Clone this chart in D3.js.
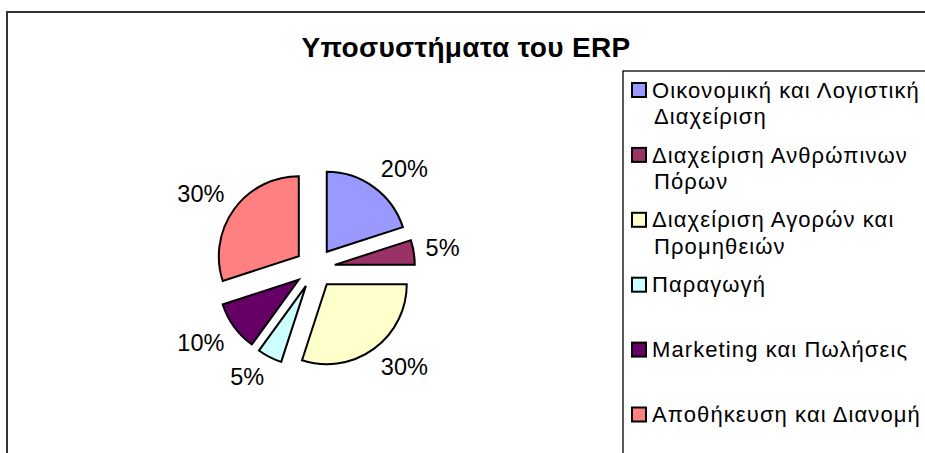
<!DOCTYPE html>
<html>
<head>
<meta charset="utf-8">
<script src="https://cdn.jsdelivr.net/npm/d3@7/dist/d3.min.js"></script>
<style>
  html, body { margin: 0; padding: 0; background: #fff; }
  svg { display: block; font-family: "Liberation Sans", Arial, sans-serif; }
</style>
</head>
<body>
<svg id="chart" width="925" height="453"></svg>
<script>
// Subsystems of an ERP system and their share
const categories = [
  "Οικονομική και Λογιστική Διαχείριση",
  "Διαχείριση Ανθρώπινων Πόρων",
  "Διαχείριση Αγορών και Προμηθειών",
  "Παραγωγή",
  "Marketing και Πωλήσεις",
  "Αποθήκευση και Διανομή"
];
const values = [20, 5, 30, 5, 10, 30];
const colors = ["#9999FF", "#993366", "#FFFFCC", "#CCFFFF", "#660066", "#FF8080"];
const title = "Υποσυστήματα του ERP";

const svg = d3.select("#chart");
const W = 925, H = 453;

// Outer chart frame
svg.append("rect")
  .attr("x", 7).attr("y", 12)
  .attr("width", W + 20).attr("height", H + 20)
  .attr("fill", "#fff")
  .attr("stroke", "#333").attr("stroke-width", 2);

// Title
svg.append("text")
  .attr("x", 466).attr("y", 56.5)
  .attr("text-anchor", "middle")
  .attr("font-weight", "bold")
  .attr("font-size", 28)
  .attr("letter-spacing", 0.35)
  .attr("fill", "#000")
  .text(title);

// Exploded pie
const cx = 315, cy = 268, R = 80, explode = 20;
const pie = d3.pie().sort(null).value(d => d)(values);
const arc = d3.arc().innerRadius(0).outerRadius(R);
const total = d3.sum(values);
const pct = d3.format(".0%");

const slices = svg.append("g").attr("transform", `translate(${cx},${cy})`);

pie.forEach((d, i) => {
  const mid = (d.startAngle + d.endAngle) / 2;
  const ox = Math.sin(mid) * explode, oy = -Math.cos(mid) * explode;
  const g = slices.append("g").attr("transform", `translate(${ox},${oy})`);
  g.append("path")
    .attr("d", arc(d))
    .attr("fill", colors[i])
    .attr("stroke", "#000")
    .attr("stroke-width", 2)
    .attr("stroke-linejoin", "miter");

  // Percentage label outside the slice
  const fs = 23.5, capH = 0.716 * fs;
  const t = g.append("text")
    .attr("font-size", fs)
    .attr("fill", "#000")
    .text(pct(values[i] / total));
  const w = t.node().getComputedTextLength();
  const dist = 92;
  const px = Math.sin(mid) * dist, py = -Math.cos(mid) * dist;
  const clamp = v => Math.max(-1, Math.min(1, v));
  const lx = px + (w / 2) * clamp(2.5 * Math.sin(mid));
  const ly = py - (capH / 2) * clamp(2.5 * Math.cos(mid));
  t.attr("text-anchor", "middle")
    .attr("x", lx)
    .attr("y", ly + capH / 2);
});

// Legend
const lgX = 623, lgY = 71;
svg.append("rect")
  .attr("x", lgX).attr("y", lgY)
  .attr("width", 400).attr("height", 450)
  .attr("fill", "#fff")
  .attr("stroke", "#000").attr("stroke-width", 1.3);

const lfs = 22, lcap = 15.2, lineH = 26.5, maxW = 275;
const firstY = 90, stepY = 64.9;
const legend = svg.append("g");

categories.forEach((name, i) => {
  const yc = firstY + i * stepY;
  legend.append("rect")
    .attr("x", 632).attr("y", yc - 7)
    .attr("width", 14).attr("height", 14)
    .attr("fill", colors[i])
    .attr("stroke", "#000").attr("stroke-width", 2);

  const text = legend.append("text")
    .attr("font-size", lfs)
    .attr("letter-spacing", 1.1)
    .attr("fill", "#000");
  // Word-wrap the label to the legend width
  const words = name.split(" ");
  let line = [];
  let lineNo = 0;
  let tspan = text.append("tspan").attr("x", 652).attr("y", yc + lcap / 2);
  words.forEach(wd => {
    line.push(wd);
    tspan.text(line.join(" "));
    if (tspan.node().getComputedTextLength() > maxW && line.length > 1) {
      line.pop();
      tspan.text(line.join(" "));
      line = [wd];
      lineNo++;
      tspan = text.append("tspan")
        .attr("x", 654)
        .attr("y", yc + lcap / 2 + lineNo * lineH)
        .text(wd);
    }
  });
});
</script>
</body>
</html>
